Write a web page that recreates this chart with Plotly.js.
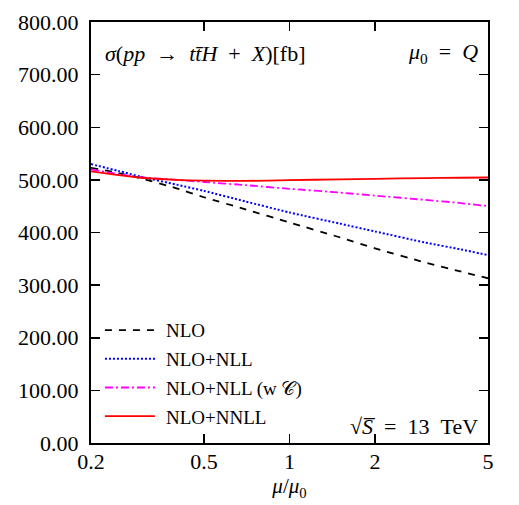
<!DOCTYPE html>
<html>
<head>
<meta charset="utf-8">
<script src="https://cdn.plot.ly/plotly-3.0.1.min.js"></script>
<style>html,body{margin:0;padding:0;background:#fff;}#chart{width:519px;height:505px;}</style>
</head>
<body>
<div id="chart"></div>
<script>
// scale ratio mu/mu0
const muRatio = [0.2, 0.25, 0.3, 0.4, 0.5, 0.7, 1, 1.5, 2, 3, 4, 5];
// cross sections [fb]
const nlo       = [523, 513, 503, 484, 467, 444, 419, 391, 370, 343, 326, 313];
const nloNll    = [530, 517, 506, 491, 479, 459, 438, 417, 402, 381, 368, 357];
const nloNllC   = [520, 511, 505, 500, 496, 490, 483, 476, 470, 462, 456, 450];
const nloNnll   = [516, 509, 504, 500, 498.5, 498, 499.5, 501, 502, 503.5, 504, 504.5];
const seriesNames = ["NLO", "NLO+NLL", "NLO+NLL (w 𝒞)", "NLO+NNLL"];
const xTickVals = [0.2, 0.5, 1, 2, 5];
const xTickText = ["0.2", "0.5", "1", "2", "5"];
const xMinorVals = [0.3, 0.4, 0.6, 0.7, 0.8, 0.9, 3, 4];
const yTickVals = [0, 100, 200, 300, 400, 500, 600, 700, 800];

const F = "Liberation Serif, Times New Roman, serif";
function tr(y, name, color, dash, width, g) {
  return {x: muRatio, y: y, name: name, mode: "lines", legendgroup: g,
    line: {color: color, dash: dash, width: width, shape: "spline", smoothing: 0.6}};
}
const data = [
  tr(nlo, seriesNames[0], "#000000", "7px,7px", 1.8, "a"),
  tr(nloNll, seriesNames[1], "#0000ff", "2px,2px", 2, "b"),
  tr(nloNllC, seriesNames[2], "#ff00ff", "8px,3px,2px,3px", 1.8, "c"),
  tr(nloNnll, seriesNames[3], "#ff0000", "solid", 1.8, "d")
];
const axisCommon = {showgrid: false, zeroline: false, showline: true, linecolor: "#000", linewidth: 2,
  mirror: "allticks", ticks: "inside", tickcolor: "#000", tickwidth: 1.5, ticklen: 9,
  tickfont: {family: F, size: 22, color: "#000"}};
const xRange = [Math.log10(0.2), Math.log10(5)];
const layout = {
  width: 519, height: 505,
  margin: {l: 91, r: 31, t: 22, b: 62},
  paper_bgcolor: "#fff", plot_bgcolor: "#fff",
  font: {family: F, color: "#000"},
  xaxis: Object.assign({}, axisCommon, {
    type: "log", range: xRange,
    tickmode: "array", tickvals: xTickVals, ticktext: xTickText,
    ticklabelstandoff: -2,
    title: {text: "<i>μ</i>/<i>μ</i><sub>0</sub>", font: {family: F, size: 21}, standoff: 1}
  }),
  xaxis2: {type: "log", range: xRange, overlaying: "x", anchor: "y", side: "bottom",
    showgrid: false, zeroline: false, showline: false, mirror: "allticks",
    ticks: "inside", ticklen: 5, tickwidth: 1.5, tickcolor: "#000",
    tickmode: "array", tickvals: xMinorVals, showticklabels: false},
  yaxis: Object.assign({}, axisCommon, {
    range: [0, 800], tickmode: "array", tickvals: yTickVals, tickformat: ".2f",
    ticklabelstandoff: 6
  }),
  showlegend: true,
  legend: {x: 0.0225, y: 0.313, xanchor: "left", yanchor: "top", bgcolor: "rgba(0,0,0,0)",
    font: {family: F, size: 19, color: "#000"}, traceorder: "grouped", tracegroupgap: 1, itemwidth: 56},
  annotations: [
    {xref: "paper", yref: "paper", x: 0.03, y: 0.926, xanchor: "left", yanchor: "middle", showarrow: false,
     text: "<i>σ</i>(<i>pp</i>&nbsp;&nbsp;→&nbsp;&nbsp;<i>t</i><i>t̄</i><i>H</i>&nbsp;&nbsp;+&nbsp;&nbsp;<i>X</i>)[fb]", font: {family: F, size: 22}},
    {xref: "paper", yref: "paper", x: 0.98, y: 0.926, xanchor: "right", yanchor: "middle", showarrow: false,
     text: "<i>μ</i><sub>0</sub>&nbsp;&nbsp;=&nbsp;&nbsp;<i>Q</i>", font: {family: F, size: 22}},
    {xref: "paper", yref: "paper", x: 0.98, y: 0.04, xanchor: "right", yanchor: "middle", showarrow: false,
     text: "√<i>S̅</i>&nbsp;&nbsp;=&nbsp;&nbsp;13&nbsp;&nbsp;TeV", font: {family: F, size: 22}}
  ]
};
function stretchLegendLines() {
  document.querySelectorAll("#chart .legend g.legendlines path").forEach(function (p) {
    p.setAttribute("d", "M5,0h50");
  });
}
Plotly.newPlot("chart", data, layout, {displayModeBar: false, staticPlot: true}).then(stretchLegendLines);
</script>
</body>
</html>
